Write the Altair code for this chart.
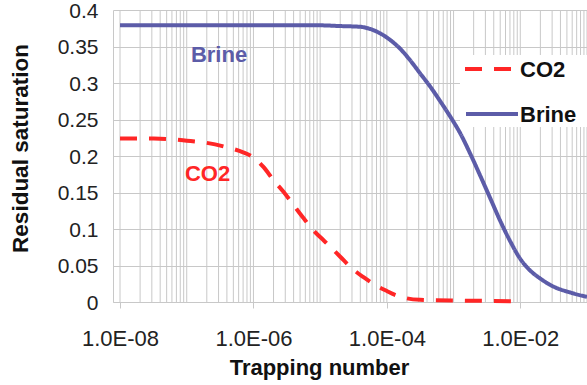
import altair as alt
import pandas as pd

# Residual saturation against trapping number, one curve per phase
brine_nt = [1.0e-8, 1.0e-6, 1.0e-5, 2.0e-5, 3.98e-5, 5.62e-5, 7.94e-5, 1.12e-4,
            1.58e-4, 2.24e-4, 3.16e-4, 4.47e-4, 6.31e-4, 8.91e-4, 1.26e-3, 1.78e-3,
            2.51e-3, 3.55e-3, 5.01e-3, 7.08e-3, 1.0e-2, 1.41e-2, 2.0e-2, 3.16e-2,
            5.62e-2, 1.0e-1]
brine_sr = [0.379, 0.379, 0.379, 0.378, 0.377, 0.374, 0.368, 0.359,
            0.347, 0.331, 0.313, 0.295, 0.275, 0.254, 0.231, 0.203,
            0.173, 0.142, 0.111, 0.083, 0.059, 0.043, 0.032, 0.021,
            0.013, 0.007]

co2_nt = [1.0e-8, 3.2e-8, 1.0e-7, 2.0e-7, 4.0e-7, 7.0e-7, 1.0e-6, 1.41e-6, 2.0e-6,
          2.82e-6, 3.98e-6, 5.62e-6, 7.94e-6, 1.0e-5, 1.41e-5, 2.0e-5, 3.0e-5, 4.47e-5,
          7.08e-5, 1.0e-4, 1.3e-4, 2.0e-4, 3.16e-4, 1.0e-3, 3.2e-3, 1.0e-2]
co2_sr = [0.224, 0.224, 0.221, 0.218, 0.212, 0.205, 0.198, 0.185, 0.167,
          0.151, 0.133, 0.115, 0.098, 0.089, 0.076, 0.062, 0.046, 0.034,
          0.022, 0.015, 0.010, 0.005, 0.003, 0.002, 0.0015, 0.001]

series_names = ["CO2", "Brine"]
series_colors = ["#ff2626", "#5c5ca8"]
label_colors = ["#ff2a2a", "#3d3da3"]

# in-plot series labels (data coordinates)
label_nt = [2.05e-7, 3.05e-7]
label_sr = [0.176, 0.338]

x_major = [1e-8, 1e-6, 1e-4, 1e-2]
y_ticks = [0, 0.05, 0.1, 0.15, 0.2, 0.25, 0.3, 0.35, 0.4]
grid_decades = [-8, -7, -6, -5, -4, -3, -2]
grid_mult = [1, 2, 3, 4, 5, 6, 7, 8, 9]

FONT = "Liberation Sans"
GRID = "#c8c8c8"

curves = pd.concat([
    pd.DataFrame({"nt": co2_nt, "sr": co2_sr, "phase": "CO2"}),
    pd.DataFrame({"nt": brine_nt, "sr": brine_sr, "phase": "Brine"}),
])
grid_df = pd.DataFrame({"g": [m * 10.0 ** d for d in grid_decades for m in grid_mult] + [0.1]})
labels_df = pd.DataFrame({"nt": label_nt, "sr": label_sr, "phase": series_names})

x_scale = alt.Scale(type="log", domain=[7.85e-9, 0.1])
y_scale = alt.Scale(domain=[0, 0.4])

x_axis = alt.Axis(
    values=x_major, grid=False, domain=True, domainColor=GRID,
    ticks=True, tickSize=6, tickColor=GRID, labelOverlap=False,
    labelExpr="'1.0E-0' + (-round(log(datum.value) / LN10))",
    labelFont=FONT, labelFontSize=22, labelColor="#222222", labelPadding=20,
    title="Trapping number", titleFont=FONT, titleFontSize=22, titleFontWeight="bold",
    titleColor="#111111", titleX=206, titleY=55, titleAnchor="middle",
)
y_axis = alt.Axis(
    values=y_ticks, format="~g", grid=True, gridColor=GRID, gridWidth=1,
    domain=True, domainColor=GRID, ticks=False, labelOverlap=False, labelBound=False,
    labelFont=FONT, labelFontSize=21, labelColor="#222222", labelPadding=15, labelOffset=1,
    title="Residual saturation", titleFont=FONT, titleFontSize=22.5, titleFontWeight="bold",
    titleColor="#111111", titleX=-93, titleY=138, titleAngle=-90,
    titleAlign="center", titleBaseline="middle",
)

grid = alt.Chart(grid_df).mark_rule(color=GRID, strokeWidth=1).encode(
    x=alt.X("g:Q", scale=x_scale, axis=x_axis),
)

lines = alt.Chart(curves).mark_line(interpolate="monotone", strokeWidth=4).encode(
    x=alt.X("nt:Q", scale=x_scale, axis=x_axis),
    y=alt.Y("sr:Q", scale=y_scale, axis=y_axis),
    color=alt.Color("phase:N", scale=alt.Scale(domain=series_names, range=series_colors), legend=None),
    strokeDash=alt.StrokeDash("phase:N", scale=alt.Scale(domain=series_names, range=[[17, 12], [1, 0]]), legend=None),
    order=alt.Order("nt:Q"),
)

labels = alt.Chart(labels_df).mark_text(font=FONT, fontSize=22, fontWeight="bold", baseline="middle").encode(
    x=alt.X("nt:Q", scale=x_scale, axis=x_axis),
    y=alt.Y("sr:Q", scale=y_scale, axis=y_axis),
    text="phase:N",
    color=alt.Color("phase:N", scale=alt.Scale(domain=series_names, range=label_colors), legend=None),
)

# legend box with line samples
one = pd.DataFrame({"k": [0]})
legend_box = alt.Chart(one).mark_rect(color="white").encode(
    x=alt.value(347), x2=alt.value(474), y=alt.value(45), y2=alt.value(117)
)
legend_co2 = alt.Chart(one).mark_rule(color=series_colors[0], strokeWidth=4, strokeDash=[17, 12]).encode(
    x=alt.value(352), x2=alt.value(398), y=alt.value(59)
)
legend_brine = alt.Chart(one).mark_rule(color=series_colors[1], strokeWidth=4).encode(
    x=alt.value(353), x2=alt.value(405), y=alt.value(104)
)
legend_text_co2 = alt.Chart(one).mark_text(
    font=FONT, fontSize=22, fontWeight="bold", align="left", baseline="middle", color="#111111", text="CO2"
).encode(x=alt.value(407), y=alt.value(60))
legend_text_brine = alt.Chart(one).mark_text(
    font=FONT, fontSize=22, fontWeight="bold", align="left", baseline="middle", color="#111111", text="Brine"
).encode(x=alt.value(407), y=alt.value(105))

chart = alt.layer(
    grid, lines, labels, legend_box, legend_co2, legend_brine, legend_text_co2, legend_text_brine
).properties(
    width=474, height=292,
    autosize=alt.AutoSizeParams(type="none"),
    padding={"left": 113, "top": 10, "right": 0, "bottom": 83},
    background="white",
).configure_view(stroke=None)

chart.save("out.html", embed_options={"renderer": "svg", "actions": False})
